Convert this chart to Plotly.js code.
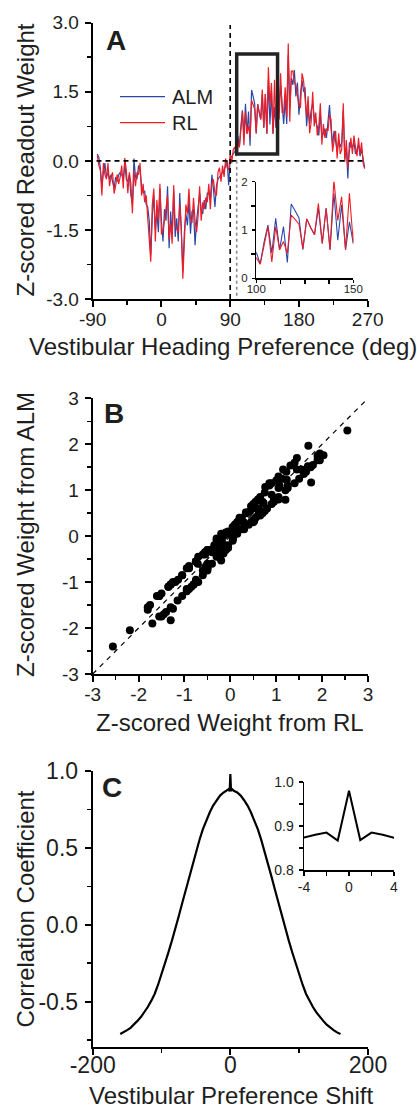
<!DOCTYPE html>
<html>
<head>
<meta charset="utf-8">
<script src="https://cdn.plot.ly/plotly-3.0.1.min.js"></script>
<style>html,body{margin:0;padding:0;background:#fff;}#chart{width:417px;height:1112px;}</style>
</head>
<body>
<div id="chart"></div>
<script>
// ---------- Panel A / B data (heading preference, z-scored weights) ----------
const heading = [-84,-82,-80,-78,-76,-74,-72,-70,-68,-66,
 -64,-62,-60,-58,-56,-54,-52,-50,-48,-46,
 -44,-42,-40,-38,-36,-34,-32,-30,-28,-26,
 -24,-22,-20,-18,-16,-14,-12,-10,-8,-6,
 -4,-2,0,2,4,6,8,10,12,14,
 16,18,20,22,24,26,28,30,32,34,
 36,38,40,42,44,46,48,50,52,54,
 56,58,60,62,64,66,68,70,72,74,
 76,78,80,82,84,86,88,90,92,94,
 96,98,100,102,104,106,108,110,112,114,
 116,118,120,122,124,126,128,130,132,134,
 136,138,140,142,144,146,148,150,152,154,
 156,158,160,162,164,166,168,170,172,174,
 176,178,180,182,184,186,188,190,192,194,
 196,198,200,202,204,206,208,210,212,214,
 216,218,220,222,224,226,228,230,232,234,
 236,238,240,242,244,246,248,250,252,254,
 256,258,260,262,264,266];
const weightALM = [0.15,0.08,-0.15,-0.55,-0.25,-0.05,-0.35,-0.25,-0.40,-0.30,
 -0.45,-0.60,-0.35,-0.45,-0.30,-0.25,-0.30,-0.40,-0.05,-0.40,
 -0.45,-0.30,-0.75,-0.95,0.05,-0.35,-0.40,-0.10,-0.20,-0.55,
 -0.70,-0.65,-0.95,-1.00,-1.30,-2.05,-1.20,-0.75,-1.50,-1.10,
 -1.55,-0.60,-1.30,-1.75,-1.05,-1.30,-0.55,-1.90,-1.10,-1.60,
 -0.65,-1.65,-1.25,-1.75,-0.70,-1.70,-2.40,-1.55,-1.15,-1.40,
 -0.85,-1.58,-1.10,-1.05,-1.83,-1.30,-1.00,-0.70,-1.05,-1.15,
 -0.85,-1.05,-0.70,-0.70,-0.85,-0.30,-0.60,-1.00,-0.55,-0.40,
 -0.35,-0.30,-0.25,-0.20,-0.10,0.00,-0.53,0.05,0.10,0.15,
 0.20,0.25,0.54,0.30,0.75,1.10,0.52,1.24,0.59,1.07,
 0.33,1.54,1.40,1.25,0.59,1.23,1.05,0.90,1.45,0.72,
 1.45,0.59,1.76,0.79,1.52,0.59,1.17,0.72,1.55,1.15,
 1.65,1.30,0.80,1.35,0.80,2.30,1.15,1.80,1.65,1.97,
 1.40,1.70,1.00,1.45,1.75,1.50,1.60,0.75,1.15,0.80,
 1.10,1.25,0.95,0.85,0.75,0.55,1.05,0.50,0.60,0.70,
 0.50,0.85,1.21,0.70,0.35,0.65,0.45,0.20,0.45,0.30,
 0.40,1.10,0.05,0.30,-0.38,0.40,0.30,0.30,0.40,0.15,
 0.25,0.35,0.10,0.25,0.05,-0.15];
const weightRL = [0.12,-0.10,-0.20,-0.75,-0.05,-0.30,-0.40,-0.05,-0.55,-0.35,
 -0.25,-0.71,-0.55,-0.30,-0.50,-0.35,-0.10,-0.60,0.06,-0.20,
 -0.70,-0.25,-0.50,-1.14,-0.20,-0.55,-0.25,-0.30,-0.05,-0.75,
 -0.50,-0.90,-0.75,-1.25,-1.55,-2.19,-0.95,-0.60,-1.75,-0.85,
 -1.30,-0.50,-1.60,-1.50,-1.30,-1.05,-0.75,-1.70,-1.35,-1.80,
 -0.53,-1.40,-1.50,-1.55,-0.95,-1.45,-2.56,-1.80,-0.95,-1.15,
 -0.60,-1.25,-1.35,-0.80,-1.30,-1.55,-1.20,-0.55,-1.30,-0.90,
 -1.05,-0.80,-0.90,-0.50,-1.05,-0.50,-0.40,-0.70,-0.75,-0.25,
 -0.15,-0.45,-0.10,-0.35,0.05,-0.15,-0.20,0.15,-0.05,0.25,
 0.30,0.10,0.43,0.29,0.70,1.07,0.34,1.07,0.59,0.76,
 0.52,1.31,1.22,1.12,0.62,1.23,1.05,0.90,1.55,0.72,
 1.45,0.59,2.03,1.20,1.69,0.59,1.76,0.72,1.80,0.90,
 1.90,1.05,1.05,1.60,0.95,2.55,0.85,1.95,1.95,1.70,
 1.65,1.45,1.20,1.15,1.90,1.75,1.40,0.95,1.40,0.60,
 0.85,1.50,0.75,1.05,0.55,0.75,1.25,0.35,0.80,0.50,
 0.70,0.65,1.00,0.90,0.20,0.45,0.65,0.05,0.60,0.15,
 0.25,1.25,-0.02,0.45,-0.15,0.20,0.50,0.15,0.55,0.30,
 0.10,0.50,0.13,0.40,-0.05,-0.17];

// ---------- Panel C data (correlation vs preference shift) ----------
const shift = [-160,-155,-150,-145,-140,-135,-130,-125,-120,-115,-110,-105,-100,-95,-90,-85,-80,-75,-70,-65,-60,-55,-50,-45,-40,-35,-30,-25,-20,-15,-10,-5,
 -4,-3,-2,-1,0,1,2,3,4,
 5,10,15,20,25,30,35,40,45,50,55,60,65,70,75,80,85,90,95,100,105,110,115,120,125,130,135,140,145,150,155,160];
const corrCoef = [-0.71,-0.70,-0.685,-0.67,-0.65,-0.625,-0.60,-0.57,-0.535,-0.495,-0.45,-0.39,-0.325,-0.255,-0.18,-0.105,-0.03,0.055,0.14,0.225,0.31,0.395,0.475,0.55,0.62,0.68,0.73,0.775,0.81,0.84,0.86,0.871,
 0.874,0.880,0.885,0.867,0.980,0.868,0.885,0.880,0.873,
 0.871,0.86,0.84,0.81,0.775,0.73,0.68,0.62,0.55,0.475,0.395,0.31,0.225,0.14,0.055,-0.03,-0.105,-0.18,-0.255,-0.325,-0.39,-0.45,-0.495,-0.535,-0.57,-0.60,-0.625,-0.65,-0.67,-0.685,-0.70,-0.71];

// ---------- Tick labels ----------
const aXTicks = [-90,0,90,180,270], aXLabels = ['-90','0','90','180','270'];
const aYTicks = [-3,-1.5,0,1.5,3], aYLabels = ['-3.0','-1.5','0.0','1.5','3.0'];
const aInXTicks = [100,150], aInXLabels = ['100','150'];
const aInYTicks = [0,1,2], aInYLabels = ['0','1','2'];
const bTicks = [-3,-2,-1,0,1,2,3], bLabels = ['-3','-2','-1','0','1','2','3'];
const cXTicks = [-200,0,200], cXLabels = ['-200','0','200'];
const cYTicks = [-0.5,0,0.5,1.0], cYLabels = ['-0.5','0.0','0.5','1.0'];
const cInXTicks = [-4,0,4], cInXLabels = ['-4','0','4'];
const cInYTicks = [0.8,0.9,1.0], cInYLabels = ['0.8','0.9','1.0'];

const W = 417, H = 1112;
const px = v => v / W;            // pixel -> paper x
const py = v => 1 - v / H;        // pixel -> paper y
const FONT = 'Liberation Sans, Arial, Helvetica, sans-serif';
const TXT = '#1e1e1e';
const BLUE = '#2b48a8', RED = '#ee1c25';

function ax(dom, range, tv, tt, fs, minorVals, opts) {
  const o = {
    domain: dom, range: range, showgrid: false, zeroline: false,
    showline: true, linecolor: '#000', linewidth: 2,
    ticks: 'outside', ticklen: 6, tickwidth: 2, tickcolor: '#000',
    tickmode: 'array', tickvals: tv, ticktext: tt,
    tickfont: {family: FONT, size: fs, color: TXT},
    ticklabelstandoff: 2, fixedrange: true
  };
  if (minorVals) o.minor = {tickmode: 'array', tickvals: minorVals, ticks: 'outside', ticklen: 4, tickwidth: 1.5, tickcolor: '#000', showgrid: false};
  return Object.assign(o, opts || {});
}

const traces = [
  {x: heading, y: weightALM, type: 'scatter', mode: 'lines', name: 'ALM', line: {color: BLUE, width: 1.2}, xaxis: 'x', yaxis: 'y', showlegend: false},
  {x: heading, y: weightRL, type: 'scatter', mode: 'lines', name: 'RL', line: {color: RED, width: 1.2}, xaxis: 'x', yaxis: 'y', showlegend: false},
  {x: heading, y: weightALM, type: 'scatter', mode: 'lines', name: 'ALM inset', line: {color: BLUE, width: 1.1}, xaxis: 'x2', yaxis: 'y2', showlegend: false},
  {x: heading, y: weightRL, type: 'scatter', mode: 'lines', name: 'RL inset', line: {color: RED, width: 1.1}, xaxis: 'x2', yaxis: 'y2', showlegend: false},
  {x: weightRL, y: weightALM, type: 'scatter', mode: 'markers', name: 'weights', marker: {color: '#000', size: 8}, xaxis: 'x3', yaxis: 'y3', showlegend: false, cliponaxis: false},
  {x: shift, y: corrCoef, type: 'scatter', mode: 'lines', name: 'corr', line: {color: '#000', width: 2.2}, xaxis: 'x4', yaxis: 'y4', showlegend: false},
  {x: shift, y: corrCoef, type: 'scatter', mode: 'lines', name: 'corr inset', line: {color: '#000', width: 2}, xaxis: 'x5', yaxis: 'y5', showlegend: false}
];

const ann = (text, x, y, size, opts) => Object.assign({text: text, xref: 'paper', yref: 'paper', x: px(x), y: py(y), showarrow: false, font: {family: FONT, size: size, color: TXT}, xanchor: 'center', yanchor: 'middle'}, opts || {});

const layout = {
  width: W, height: H, margin: {l: 0, r: 0, t: 0, b: 0},
  paper_bgcolor: '#fff', plot_bgcolor: 'rgba(0,0,0,0)', showlegend: false,
  xaxis: ax([px(92.7), px(367.7)], [-90, 270], aXTicks, aXLabels, 19, [-45, 45, 135, 225], {anchor: 'y', ticklabelstandoff: -4}),
  yaxis: ax([py(299), py(22.7)], [-3, 3], aYTicks, aYLabels, 19, [-2.25, -0.75, 0.75, 2.25], {anchor: 'x'}),
  xaxis2: ax([px(256.3), px(353.3)], [100, 150], aInXTicks, aInXLabels, 11.5, [112.5, 125, 137.5], {anchor: 'y2', linewidth: 1.3, ticklen: 3, tickwidth: 1.2, ticklabelstandoff: -3}),
  yaxis2: ax([py(278.3), py(181.7)], [0, 2], aInYTicks, aInYLabels, 11.5, [0.5, 1.5], {anchor: 'x2', linewidth: 1.3, ticklen: 3, tickwidth: 1.2}),
  xaxis3: ax([px(92.7), px(368)], [-3, 3], bTicks, bLabels, 19, [-2.5, -1.5, -0.5, 0.5, 1.5, 2.5], {anchor: 'y3', ticklabelstandoff: -4}),
  yaxis3: ax([py(674), py(398.3)], [-3, 3], bTicks, bLabels, 19, [-2.5, -1.5, -0.5, 0.5, 1.5, 2.5], {anchor: 'x3'}),
  xaxis4: ax([px(92.7), px(368)], [-200, 200], cXTicks, cXLabels, 23, [-100, 100], {anchor: 'y4', ticklabelstandoff: -9}),
  yaxis4: ax([py(1046.7), py(771)], [-0.793, 1.0], cYTicks, cYLabels, 23, [-0.75, -0.25, 0.25, 0.75], {anchor: 'x4'}),
  xaxis5: ax([px(304), px(394)], [-4, 4], cInXTicks, cInXLabels, 14, [-2, 2], {anchor: 'y5', linewidth: 1.5, ticklen: 4, tickwidth: 1.3, ticklabelstandoff: 0}),
  yaxis5: ax([py(870), py(782)], [0.8, 1.0], cInYTicks, cInYLabels, 14, [0.85, 0.95], {anchor: 'x5', linewidth: 1.5, ticklen: 4, tickwidth: 1.3}),
  shapes: [
    // Panel A reference lines and highlight box
    {type: 'line', xref: 'x', yref: 'y', x0: -85, x1: 268, y0: 0, y1: 0, line: {color: '#000', width: 1.6, dash: '5px,4px'}},
    {type: 'line', xref: 'x', yref: 'y', x0: 90, x1: 90, y0: -3, y1: 2.95, line: {color: '#000', width: 1.6, dash: '5px,4px'}},
    {type: 'line', xref: 'x', yref: 'y', x0: 98.5, x1: 98.5, y0: 0, y1: -3, line: {color: '#8a8a8a', width: 1.6, dash: 'dot'}},
    {type: 'rect', xref: 'x', yref: 'y', x0: 98.5, x1: 152, y0: 0.15, y1: 2.32, line: {color: '#222', width: 3.5}},
    // Panel A legend samples
    {type: 'line', xref: 'paper', yref: 'paper', x0: px(120), x1: px(165), y0: py(96.7), y1: py(96.7), line: {color: BLUE, width: 1.3}},
    {type: 'line', xref: 'paper', yref: 'paper', x0: px(120), x1: px(165), y0: py(122.7), y1: py(122.7), line: {color: RED, width: 1.3}},
    // Panel B identity line
    {type: 'line', xref: 'x3', yref: 'y3', x0: -3, x1: 3, y0: -3, y1: 3, layer: 'below', line: {color: '#000', width: 1.2, dash: '5px,5px'}}
  ],
  annotations: [
    ann('<b>A</b>', 104, 41, 28, {xanchor: 'left'}),
    ann('<b>B</b>', 102, 413, 28, {xanchor: 'left'}),
    ann('<b>C</b>', 100, 787.5, 28, {xanchor: 'left'}),
    ann('ALM', 170, 96.7, 20, {xanchor: 'left'}),
    ann('RL', 170, 122.7, 20, {xanchor: 'left'}),
    ann('Z-scored Readout Weight', 25, 160.5, 24, {textangle: -90}),
    ann('Vestibular Heading Preference (deg)', 222.5, 346, 24),
    ann('Z-scored Weight from ALM', 25, 535, 24, {textangle: -90}),
    ann('Z-scored Weight from RL', 230, 722, 24),
    ann('Correlation Coefficient', 25, 909.5, 24, {textangle: -90}),
    ann('Vestibular Preference Shift', 230.8, 1095, 24)
  ]
};

Plotly.newPlot('chart', traces, layout, {staticPlot: true, displayModeBar: false});
</script>
</body>
</html>
